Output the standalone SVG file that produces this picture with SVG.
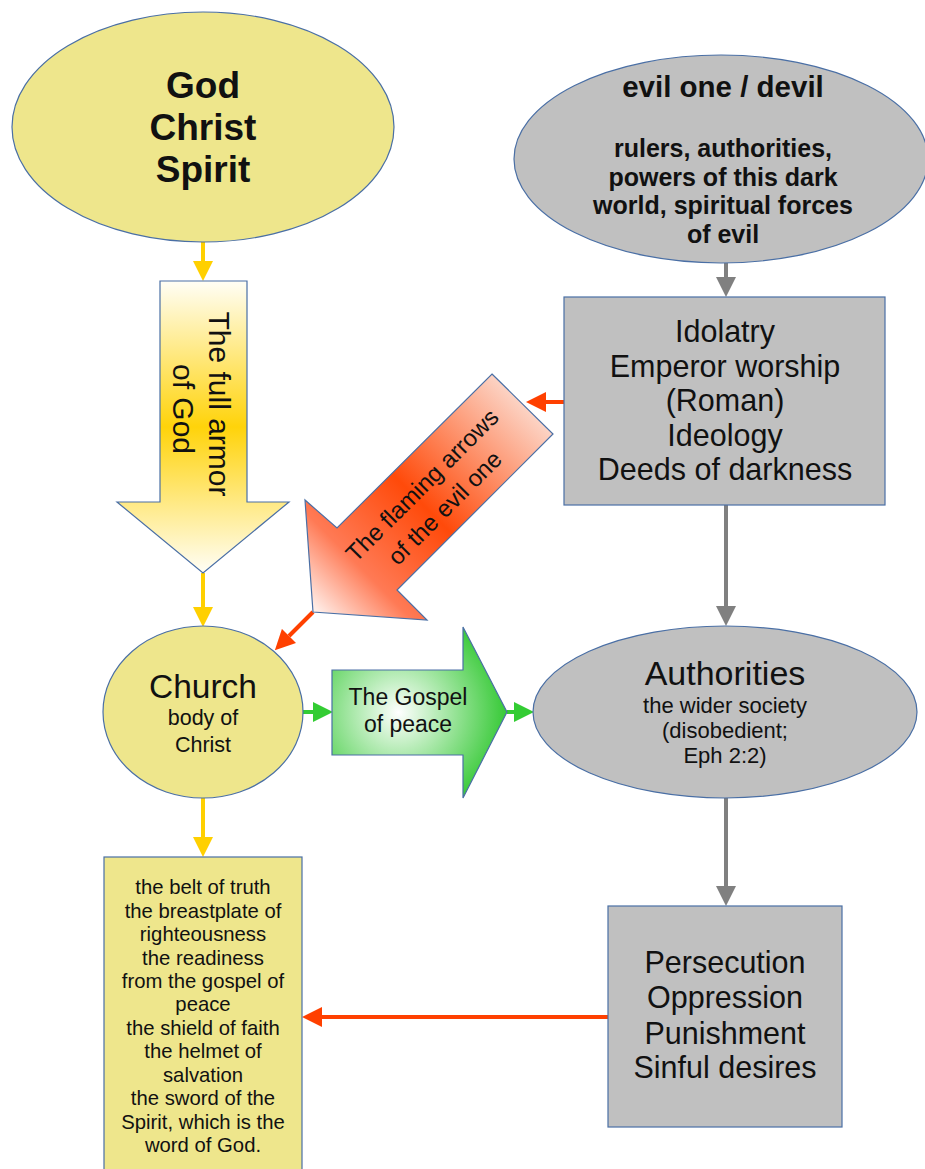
<svg xmlns="http://www.w3.org/2000/svg" width="925" height="1169" viewBox="0 0 925 1169">
<style>
text{font-family:"Liberation Sans",Arial,sans-serif;fill:#111;text-anchor:middle}
.shape{stroke:#4a6fa5;stroke-width:1.2}
.yel{fill:#eee68c}
.gry{fill:#c0c0c0}
.b{font-weight:bold}
.cy{stroke:#ffd000;stroke-width:4;fill:none}
.cg{stroke:#808080;stroke-width:4;fill:none}
.cr{stroke:#ff4000;stroke-width:4;fill:none}
.cgr{stroke:#33cc33;stroke-width:4;fill:none}
</style>
<defs>
<marker id="ay" viewBox="0 0 10 10" refX="0" refY="5" markerWidth="5" markerHeight="5" orient="auto"><path d="M0,0 L10,5 L0,10 z" fill="#ffd000"/></marker>
<marker id="ag" viewBox="0 0 10 10" refX="0" refY="5" markerWidth="5" markerHeight="5" orient="auto"><path d="M0,0 L10,5 L0,10 z" fill="#808080"/></marker>
<marker id="ar" viewBox="0 0 10 10" refX="0" refY="5" markerWidth="5" markerHeight="5" orient="auto"><path d="M0,0 L10,5 L0,10 z" fill="#ff4000"/></marker>
<marker id="agr" viewBox="0 0 10 10" refX="0" refY="5" markerWidth="5" markerHeight="5" orient="auto"><path d="M0,0 L10,5 L0,10 z" fill="#33cc33"/></marker>
<linearGradient id="gArmor" x1="0" y1="0" x2="0" y2="1">
<stop offset="0" stop-color="#fffef6"/>
<stop offset="0.5" stop-color="#ffd30a"/>
<stop offset="1" stop-color="#fffef6"/>
</linearGradient>
<linearGradient id="gFlame" gradientUnits="userSpaceOnUse" x1="522" y1="404" x2="313" y2="612">
<stop offset="0" stop-color="#fcd3c4"/>
<stop offset="0.48" stop-color="#ff4a0a"/>
<stop offset="0.78" stop-color="#ff7a55"/>
<stop offset="1" stop-color="#fff4f0"/>
</linearGradient>
<radialGradient id="gGospel" cx="0.38" cy="0.5" r="0.62">
<stop offset="0" stop-color="#ffffff"/>
<stop offset="1" stop-color="#36c936"/>
</radialGradient>
</defs>

<g id="connectors">
<line class="cy" x1="203" y1="242" x2="203" y2="261" marker-end="url(#ay)"/>
<line class="cy" x1="203" y1="573" x2="203" y2="607" marker-end="url(#ay)"/>
<line class="cy" x1="203" y1="798" x2="203" y2="837" marker-end="url(#ay)"/>
<line class="cg" x1="726" y1="263" x2="726" y2="277" marker-end="url(#ag)"/>
<line class="cg" x1="726" y1="505" x2="726" y2="606" marker-end="url(#ag)"/>
<line class="cg" x1="726" y1="798" x2="726" y2="886" marker-end="url(#ag)"/>
<line class="cr" x1="564" y1="402" x2="546" y2="402" marker-end="url(#ar)"/>
<line class="cr" x1="313" y1="612" x2="289" y2="636" marker-end="url(#ar)"/>
<line class="cr" x1="608" y1="1017" x2="322" y2="1017" marker-end="url(#ar)"/>
<line class="cgr" x1="303" y1="712" x2="313" y2="712" marker-end="url(#agr)"/>
<line class="cgr" x1="507" y1="712" x2="514" y2="712" marker-end="url(#agr)"/>
</g>

<g id="god">
<ellipse class="shape yel" cx="203" cy="127" rx="191" ry="115"/>
<text class="b" font-size="37" fill="#000"><tspan x="203" y="98">God</tspan><tspan x="203" y="140">Christ</tspan><tspan x="203" y="182">Spirit</tspan></text>
</g>

<g id="evil">
<ellipse class="shape gry" cx="721" cy="159" rx="207" ry="104"/>
<text class="b" font-size="29.5" x="723" y="97">evil one / devil</text>
<text class="b" font-size="25"><tspan x="723" y="157">rulers, authorities,</tspan><tspan x="723" y="186">powers of this dark</tspan><tspan x="723" y="214">world, spiritual forces</tspan><tspan x="723" y="243">of evil</tspan></text>
</g>

<g id="armor">
<polygon class="shape" fill="url(#gArmor)" points="160,281 247,281 247,502 289,502 203,573 117,502 160,502"/>
<text font-size="30" transform="translate(209,404) rotate(90)"><tspan x="0" y="0">The full armor</tspan><tspan x="5" y="36">of God</tspan></text>
</g>

<g id="idolatry">
<rect class="shape gry" x="564" y="297" width="321" height="208"/>
<text font-size="30.5"><tspan x="725" y="342">Idolatry</tspan><tspan x="725" y="377">Emperor worship</tspan><tspan x="725" y="411">(Roman)</tspan><tspan x="725" y="446">Ideology</tspan><tspan x="725" y="480">Deeds of darkness</tspan></text>
</g>

<g id="flaming">
<polygon class="shape" fill="url(#gFlame)" points="492,374 553,434 397,590 427,620 313,612 305,500 337,528"/>
<text font-size="24" transform="translate(428,491) rotate(-45)"><tspan x="0" y="0">The flaming arrows</tspan><tspan x="0" y="32">of the evil one</tspan></text>
</g>

<g id="church">
<ellipse class="shape yel" cx="203" cy="712" rx="100" ry="86"/>
<text font-size="33.5" x="203" y="698">Church</text>
<text font-size="21.5"><tspan x="203" y="725">body of</tspan><tspan x="203" y="752">Christ</tspan></text>
</g>

<g id="gospel">
<polygon class="shape" fill="url(#gGospel)" points="332,670 463,670 463,627 507,712 463,798 463,755 332,755"/>
<text font-size="23" fill="#221a10"><tspan x="408" y="705">The Gospel</tspan><tspan x="408" y="732">of peace</tspan></text>
</g>

<g id="authorities">
<ellipse class="shape gry" cx="725" cy="712" rx="192" ry="86"/>
<text font-size="34" x="725" y="685">Authorities</text>
<text font-size="22"><tspan x="725" y="713">the wider society</tspan><tspan x="725" y="738">(disobedient;</tspan><tspan x="725" y="763">Eph 2:2)</tspan></text>
</g>

<g id="persecution">
<rect class="shape gry" x="608" y="906" width="234" height="221"/>
<text font-size="30.5"><tspan x="725" y="973">Persecution</tspan><tspan x="725" y="1008">Oppression</tspan><tspan x="725" y="1044">Punishment</tspan><tspan x="725" y="1078">Sinful desires</tspan></text>
</g>

<g id="armorlist">
<rect class="shape yel" x="104" y="857" width="198" height="330"/>
<text font-size="20.3"><tspan x="203" y="894">the belt of truth</tspan><tspan x="203" y="917.5">the breastplate of</tspan><tspan x="203" y="941">righteousness</tspan><tspan x="203" y="964.5">the readiness</tspan><tspan x="203" y="988">from the gospel of</tspan><tspan x="203" y="1011">peace</tspan><tspan x="203" y="1034.5">the shield of faith</tspan><tspan x="203" y="1058">the helmet of</tspan><tspan x="203" y="1081.5">salvation</tspan><tspan x="203" y="1105">the sword of the</tspan><tspan x="203" y="1128.5">Spirit, which is the</tspan><tspan x="203" y="1152">word of God.</tspan></text>
</g>
</svg>
